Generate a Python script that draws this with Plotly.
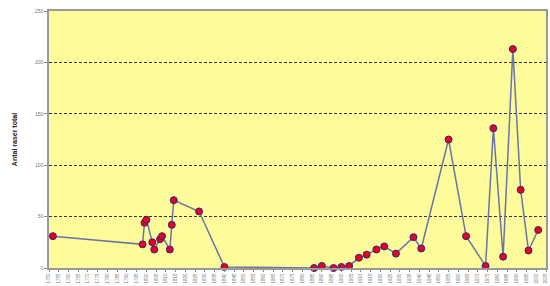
import plotly.graph_objects as go

years = [1752, 1798, 1799, 1800, 1803, 1804, 1807, 1808, 1812, 1813, 1814, 1827, 1840,
         1886, 1890, 1896, 1900, 1904, 1909, 1913, 1918, 1922, 1928, 1937, 1941,
         1955, 1964, 1974, 1978, 1983, 1988, 1992, 1996, 2001]
totals = [31, 23, 44, 47, 25, 18, 28, 31, 18, 42, 66, 55, 1,
          0, 2, 0, 1, 2, 10, 13, 18, 21, 14, 30, 19,
          125, 31, 2, 136, 11, 213, 76, 17, 37]

tick_years = list(range(1750, 2006, 5))

fig = go.Figure()
fig.add_trace(go.Scatter(
    x=years, y=totals, mode="lines+markers",
    line=dict(color="#6a74a8", width=1.5),
    marker=dict(color="#e8001c", size=7, line=dict(color="#2a2a8a", width=1)),
    showlegend=False, cliponaxis=False,
))

fig.update_layout(
    width=550, height=286,
    margin=dict(l=49, r=4, t=11, b=18),
    paper_bgcolor="white",
    plot_bgcolor="#fdfb9a",
    font=dict(family="Liberation Sans, Arial, sans-serif", color="#555"),
)
fig.update_xaxes(
    range=[1750, 2005], tickmode="array", tickvals=tick_years,
    ticktext=[str(y) for y in tick_years],
    tickangle=-90, tickfont=dict(size=4.5, color="#777"),
    showgrid=False, zeroline=False, automargin=False,
    showline=True, linecolor="#999", linewidth=1.5, mirror=True,
    ticks="outside", ticklen=2, tickcolor="#888",
)
fig.update_yaxes(
    range=[0, 250], tickvals=[0, 50, 100, 150, 200, 250],
    tickfont=dict(size=5, color="#777"), automargin=False,
    showgrid=True, gridcolor="#333", griddash="3px,2px", gridwidth=0.9,
    zeroline=False,
    showline=True, linecolor="#999", linewidth=1.5, mirror=True,
    ticks="outside", ticklen=3, tickcolor="#888",
    title=dict(text="<b>Antal raser total</b>", font=dict(size=7, color="#222"), standoff=16),
)

fig.write_html("out.html", config={"displayModeBar": False},
               post_script="document.body.style.margin='0';document.body.style.overflow='hidden';")
